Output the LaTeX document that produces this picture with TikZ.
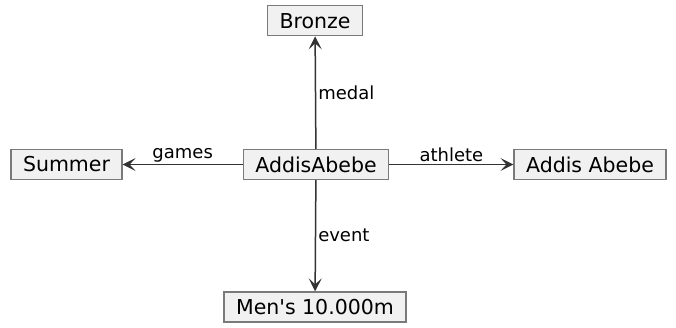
\documentclass[tikz,border=0pt]{standalone}
\usepackage{fontspec}
\setmainfont{DejaVu Sans}
\usetikzlibrary{arrows.meta}
\definecolor{boxfill}{HTML}{F1F1F1}
\definecolor{boxline}{HTML}{7A7A7A}
\definecolor{edge}{HTML}{333333}
\tikzset{
  entity/.style={draw=boxline,fill=boxfill,line width=1.3pt,inner xsep=12pt,
    minimum height=30pt,font=\fontsize{20.5}{24}\selectfont,text=black},
  rel/.style={font=\fontsize{18}{21}\selectfont,inner sep=2pt,text=black}
}
\begin{document}
\begin{tikzpicture}[x=1pt,y=-1pt,>={Stealth[length=13pt,width=13pt,inset=6pt]}]
\useasboundingbox (0,0) rectangle (676,327);
\path
(316,164.5) node[entity] (A) {AddisAbebe}
(315,20.7)  node[entity] (bronze) {Bronze}
(66.5,164.5) node[entity] (summer) {Summer}
(590,164.5) node[entity] (athlete) {Addis Abebe}
(315,307)   node[entity] (event) {Men\textquotesingle s 10.000m};
\draw[->,edge,line width=1.5pt] (A)--(bronze) node[rel,pos=.5,right]{medal};
\draw[->,edge,line width=1.5pt] (A)--(summer) node[rel,pos=.5,above]{games};
\draw[->,edge,line width=1.5pt] (A)--(athlete) node[rel,pos=.5,above]{athlete};
\draw[->,edge,line width=1.5pt] (A)--(event) node[rel,pos=.5,right]{event};
\end{tikzpicture}
\end{document}
